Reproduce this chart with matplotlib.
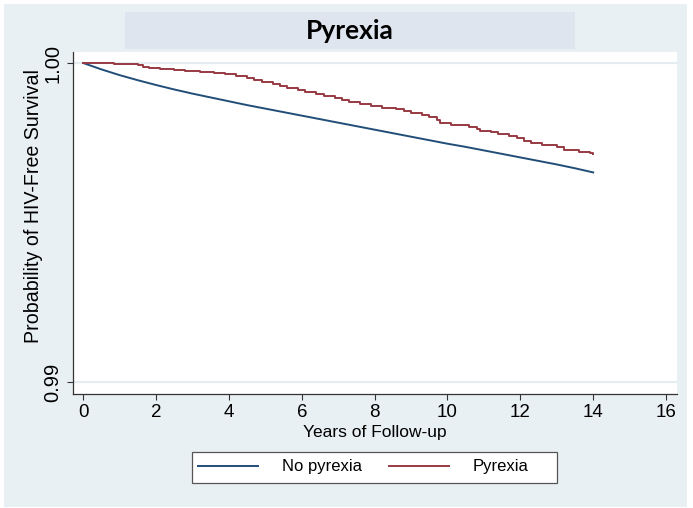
import matplotlib
matplotlib.use("Agg")
import matplotlib.pyplot as plt
from matplotlib.patches import Rectangle

# Kaplan-Meier estimates: HIV-free survival by pyrexia status
no_pyrexia_years = [0, 0.5, 1, 1.5, 2, 2.5, 3, 3.5, 4, 4.5, 5, 5.5, 6, 6.5, 7,
                    7.5, 8, 8.5, 9, 9.5, 10, 10.5, 11, 11.5, 12, 12.5, 13, 13.5, 14.0]
no_pyrexia_surv = [1.00000, 0.99980, 0.99962, 0.99946, 0.99931, 0.99917, 0.99904,
                   0.99892, 0.99880, 0.99868, 0.99857, 0.99846, 0.99835, 0.99824,
                   0.99813, 0.99802, 0.99791, 0.99780, 0.99769, 0.99758, 0.99747,
                   0.99737, 0.99726, 0.99715, 0.99704, 0.99693, 0.99682, 0.99670,
                   0.99657]

pyrexia_years = [0, 0.85, 1.5, 1.65, 1.8, 2.1, 2.5, 2.8, 3.2, 3.6, 3.9, 4.2, 4.5,
                 4.7, 4.9, 5.2, 5.4, 5.6, 5.9, 6.1, 6.4, 6.6, 6.9, 7.1, 7.3, 7.6,
                 7.9, 8.2, 8.6, 8.8, 9.0, 9.3, 9.5, 9.7, 9.8, 10.1, 10.6, 10.8,
                 10.9, 11.2, 11.4, 11.7, 11.9, 12.1, 12.3, 12.6, 13.0, 13.2, 13.6,
                 13.9, 14.0]
pyrexia_surv = [1.00000, 0.99997, 0.99994, 0.99989, 0.99984, 0.99981, 0.99978,
                0.99975, 0.99972, 0.99969, 0.99966, 0.99959, 0.99953, 0.99947,
                0.99941, 0.99934, 0.99928, 0.99922, 0.99916, 0.99909, 0.99903,
                0.99897, 0.99891, 0.99884, 0.99878, 0.99872, 0.99866, 0.99859,
                0.99856, 0.99850, 0.99844, 0.99838, 0.99831, 0.99822, 0.99813,
                0.99806, 0.99800, 0.99794, 0.99788, 0.99784, 0.99778, 0.99772,
                0.99766, 0.99756, 0.99750, 0.99744, 0.99738, 0.99728, 0.99722,
                0.99717, 0.99716]

series_labels = ["No pyrexia", "Pyrexia"]
title_text = "Pyrexia"
x_ticks = [0, 2, 4, 6, 8, 10, 12, 14, 16]
y_ticks = [0.99, 1.00]
y_tick_labels = ["0.99", "1.00"]

W, H = 693, 508
plt.rcParams["font.family"] = ["Liberation Sans", "DejaVu Sans"]

fig = plt.figure(figsize=(W / 100, H / 100), dpi=100)
fig.patch.set_facecolor("white")

def fx(px):
    return px / W

def fy(py):
    return 1 - py / H

# outer panel
fig.patches.append(Rectangle((fx(4), fy(507)), fx(683), 503 / H,
                             transform=fig.transFigure, facecolor="#e9f0f3",
                             edgecolor="none", zorder=-2))
# title band
fig.patches.append(Rectangle((fx(125), fy(49)), fx(450), 37 / H,
                             transform=fig.transFigure, facecolor="#dfe5ee",
                             edgecolor="none", zorder=-1))
fig.text(fx(350), fy(31), title_text, ha="center", va="center",
         fontsize=19, fontweight="bold", family=["Lato", "DejaVu Sans"],
         color="black", zorder=2)

# legend box
fig.patches.append(Rectangle((fx(192), fy(483)), fx(365), 31 / H,
                             transform=fig.transFigure, facecolor="white",
                             edgecolor="#555555", linewidth=0.9, zorder=-1))

ax = fig.add_axes([fx(73), fy(394), fx(604), 342 / H])
ax.set_zorder(1)
ax.set_facecolor("white")

blue = "#214e78"
red = "#983a43"
ax.plot(no_pyrexia_years, no_pyrexia_surv, color=blue, lw=1.4,
        label=series_labels[0], zorder=3)
ax.step(pyrexia_years, pyrexia_surv, where="post", color=red, lw=1.4,
        label=series_labels[1], zorder=3)

ax.set_xlim(-0.28, 16.3)
ax.set_ylim(0.989624, 1.000345)
ax.set_xticks(x_ticks)
ax.set_yticks(y_ticks)
ax.set_yticklabels(y_tick_labels, rotation=90, va="center")

for y in y_ticks:
    ax.axhline(y, color="#e6edf0", lw=1.6, zorder=1)

for s in ["top", "right"]:
    ax.spines[s].set_visible(False)
for s in ["left", "bottom"]:
    ax.spines[s].set_color("#333333")
    ax.spines[s].set_linewidth(0.9)

ax.tick_params(axis="both", direction="out", length=4.5, width=0.8,
               color="#333333", pad=3)
ax.tick_params(axis="x", labelsize=13.5)
ax.tick_params(axis="y", labelsize=14.5)

ax.set_xlabel("Years of Follow-up", fontsize=12.5, labelpad=2.5)
ax.set_ylabel("Probability of HIV-Free Survival", fontsize=14.1)
ax.yaxis.set_label_coords(-0.05, 0.55)

fs_leg = 12
em = fs_leg * 100 / 72
leg = fig.legend(loc="center left", bbox_to_anchor=(fx(198), fy(467)),
                 ncol=2, frameon=False, fontsize=fs_leg,
                 handlelength=60 / em, handletextpad=24 / em,
                 columnspacing=27 / em, borderpad=0, borderaxespad=0)

fig.savefig("out.png", dpi=100, facecolor=fig.get_facecolor())
